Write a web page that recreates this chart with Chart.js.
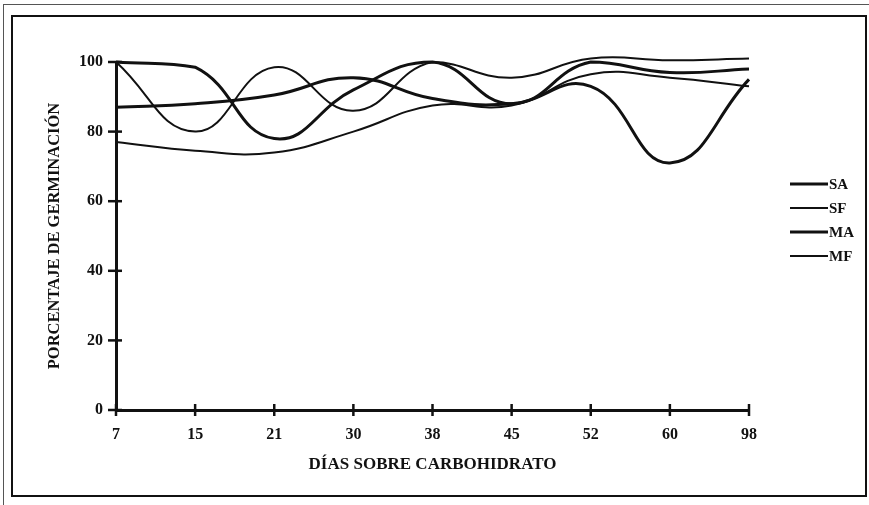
<!DOCTYPE html>
<html>
<head>
<meta charset="utf-8">
<script src="https://cdn.jsdelivr.net/npm/chart.js@4.4.1/dist/chart.umd.min.js"></script>
<style>
  html, body { margin: 0; padding: 0; background: #fff; }
  #wrap { position: relative; width: 869px; height: 505px; overflow: hidden; background: #fff; }
  #c { position: absolute; left: 0; top: 0; }
  .frame { position: absolute; left: 11px; top: 15px; width: 852px; height: 478px; border: 2px solid #111; }
  .outer { position: absolute; left: 3px; top: 4px; width: 866px; height: 510px; border-left: 1px solid #555; border-top: 1px solid #555; }
</style>
</head>
<body>
<div id="wrap">
  <div class="outer"></div>
  <div class="frame"></div>
  <canvas id="c" width="869" height="505"></canvas>
</div>
<script>
const categories = ['7', '15', '21', '30', '38', '45', '52', '60', '98'];
const seriesNames = ['SA', 'SF', 'MA', 'MF'];
const SA = [100, 98.5, 78, 92, 100, 88, 100, 97, 98];
const SF = [100, 80, 98.5, 86, 100, 95.5, 101, 100.5, 101];
const MA = [87, 88, 90.5, 95.5, 89.5, 88, 93, 71, 95];
const MF = [77, 74.5, 74, 80, 87.5, 87.5, 96.5, 95.5, 93];
const yTicks = [0, 20, 40, 60, 80, 100];

const serif = '"Liberation Serif", "Times New Roman", serif';
const ink = '#111';

function ds(label, data, w) {
  return { label, data, borderColor: ink, backgroundColor: ink, borderWidth: w,
           pointRadius: 0, tension: 0.45, clip: false, fill: false };
}

const crossTicks = {
  id: 'crossTicks',
  afterDraw(chart) {
    const ctx = chart.ctx, x = chart.scales.x, y = chart.scales.y;
    ctx.save();
    ctx.strokeStyle = ink;
    ctx.lineWidth = 2.5;
    const ax = chart.chartArea.left, ay = chart.chartArea.bottom;
    yTicks.forEach(v => {
      const py = y.getPixelForValue(v);
      ctx.beginPath(); ctx.moveTo(ax - 8, py); ctx.lineTo(ax + 6, py); ctx.stroke();
    });
    categories.forEach((c, i) => {
      const px = x.getPixelForValue(i);
      ctx.beginPath(); ctx.moveTo(px, ay - 6); ctx.lineTo(px, ay + 6); ctx.stroke();
    });
    ctx.restore();
  }
};

const sideLegend = {
  id: 'sideLegend',
  afterDraw(chart) {
    const ctx = chart.ctx;
    ctx.save();
    ctx.font = 'bold 15px ' + serif;
    ctx.fillStyle = ink;
    ctx.textBaseline = 'middle';
    ctx.textAlign = 'left';
    chart.data.datasets.forEach((d, i) => {
      const yy = 184 + i * 24;
      ctx.strokeStyle = d.borderColor;
      ctx.lineWidth = d.borderWidth;
      ctx.beginPath(); ctx.moveTo(790, yy); ctx.lineTo(828, yy); ctx.stroke();
      ctx.fillText(d.label, 829, yy + 1);
    });
    ctx.restore();
  }
};

new Chart(document.getElementById('c'), {
  type: 'line',
  data: {
    labels: categories,
    datasets: [
      ds(seriesNames[0], SA, 3),
      ds(seriesNames[1], SF, 2),
      ds(seriesNames[2], MA, 3),
      ds(seriesNames[3], MF, 2)
    ]
  },
  options: {
    responsive: false,
    animation: false,
    events: [],
    layout: { padding: { left: 38, right: 120, top: 62, bottom: 25 } },
    plugins: { legend: { display: false }, tooltip: { enabled: false } },
    scales: {
      x: {
        type: 'category',
        offset: false,
        grid: { display: false },
        border: { display: true, color: ink, width: 3 },
        ticks: { color: ink, font: { family: serif, size: 16, weight: 'bold' }, padding: 7, maxRotation: 0, autoSkip: false },
        title: { display: true, text: 'DÍAS SOBRE CARBOHIDRATO', color: ink,
                 font: { family: serif, size: 17, weight: 'bold' }, padding: { top: 0, bottom: 5 } },
        afterFit(s) { s.height = 70; }
      },
      y: {
        min: 0, max: 100,
        grid: { display: false },
        border: { display: true, color: ink, width: 3 },
        ticks: { stepSize: 20, color: ink, font: { family: serif, size: 16, weight: 'bold' }, padding: 5,
                 callback: v => yTicks.includes(v) ? String(v) : '' },
        title: { display: true, text: 'PORCENTAJE DE GERMINACIÓN', color: ink,
                 font: { family: serif, size: 16.5, weight: 'bold' }, padding: { top: 7, bottom: 0 } },
        afterFit(s) { s.width = 78; }
      }
    }
  },
  plugins: [crossTicks, sideLegend]
});
</script>
</body>
</html>
